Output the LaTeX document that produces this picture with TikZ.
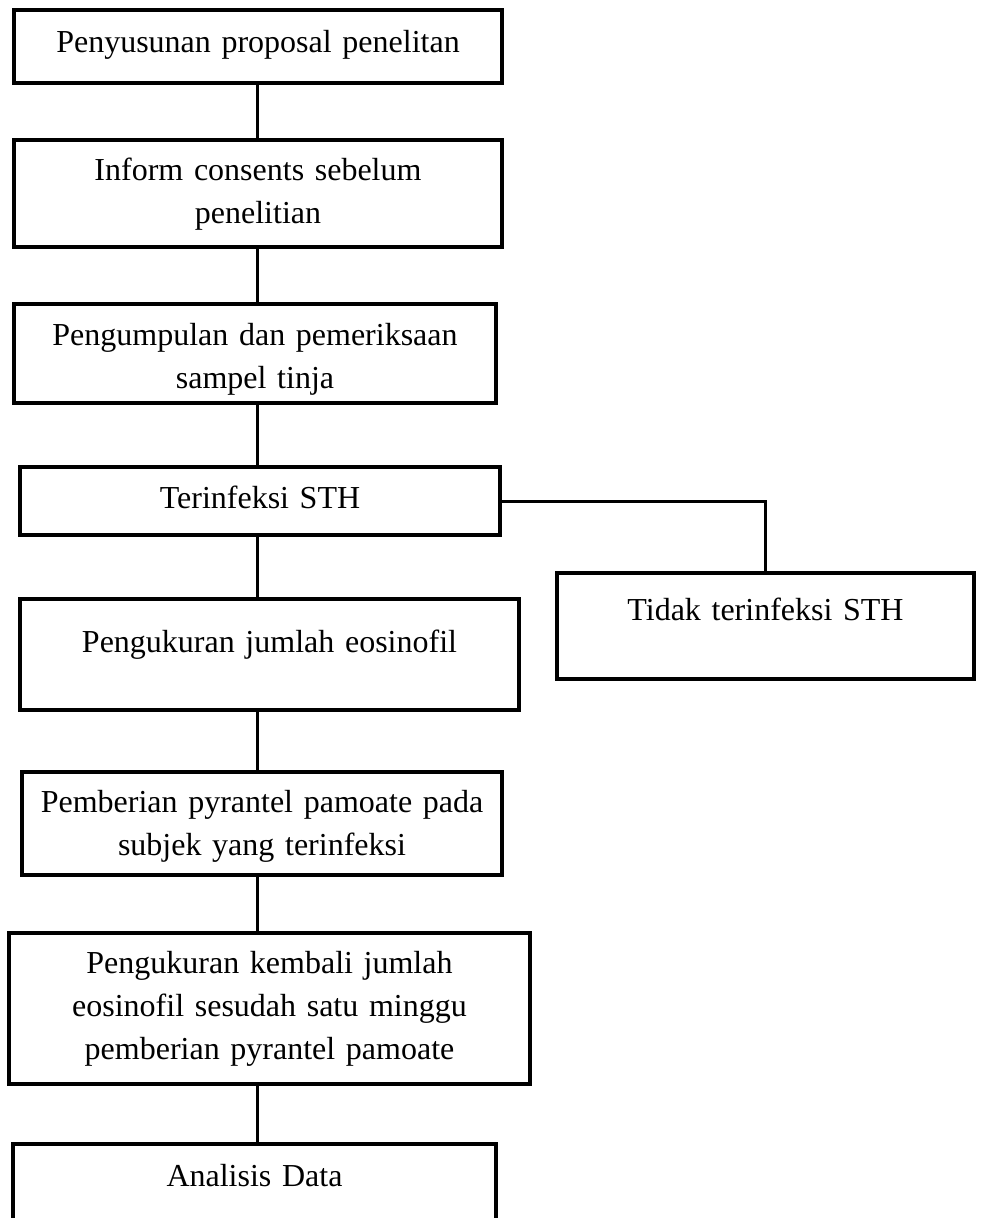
\documentclass[tikz,border=0pt]{standalone}
\usepackage{fontspec}
\setmainfont{Liberation Serif}
\usepackage{tikz}

\begin{document}
\begin{tikzpicture}[x=1pt, y=-1pt, box/.style={draw, line width=3.5pt, inner sep=0pt, outer sep=0pt, align=center, anchor=north west, font=\fontsize{32}{43}\selectfont}, link/.style={line width=3pt}]
  \useasboundingbox (0,0) rectangle (980,1218);
  \clip (0,0) rectangle (980,1218);
  \coordinate (S) at (257,0);
  \node[box, text width=488pt, text height=42pt, text depth=31pt] (A) at (14,10) {Penyusunan proposal penelitan};
  \node[box, text width=488pt, text height=40pt, text depth=67pt] (B) at (14,140) {Inform consents sebelum\\penelitian};
  \node[box, text width=482pt, text height=41pt, text depth=58pt] (C) at (14,304) {Pengumpulan dan pemeriksaan\\sampel tinja};
  \node[box, text width=480pt, text height=41pt, text depth=27pt] (D) at (20,467) {Terinfeksi STH};
  \node[box, text width=417pt, text height=47pt, text depth=59pt] (E) at (557,573) {Tidak terinfeksi STH};
  \node[box, text width=499pt, text height=53pt, text depth=58pt] (F) at (20,599) {Pengukuran jumlah eosinofil};
  \node[box, text width=480pt, text height=40pt, text depth=63pt] (G) at (22,772) {Pemberian pyrantel pamoate pada\\subjek yang terinfeksi};
  \node[box, text width=521pt, text height=40pt, text depth=111pt] (H) at (9,933) {Pengukuran kembali jumlah\\eosinofil sesudah satu minggu\\pemberian pyrantel pamoate};
  \node[box, text width=483pt, text height=42pt, text depth=90pt] (I) at (13,1144) {Analisis Data};
  \draw[link] (A.south -| S) -- (B.north -| S);
  \draw[link] (B.south -| S) -- (C.north -| S);
  \draw[link] (C.south -| S) -- (D.north -| S);
  \draw[link] (D.south -| S) -- (F.north -| S);
  \draw[link] (F.south -| S) -- (G.north -| S);
  \draw[link] (G.south -| S) -- (H.north -| S);
  \draw[link] (H.south -| S) -- (I.north -| S);
  \draw[link] (D.east) -| (E.north);
\end{tikzpicture}
\end{document}
